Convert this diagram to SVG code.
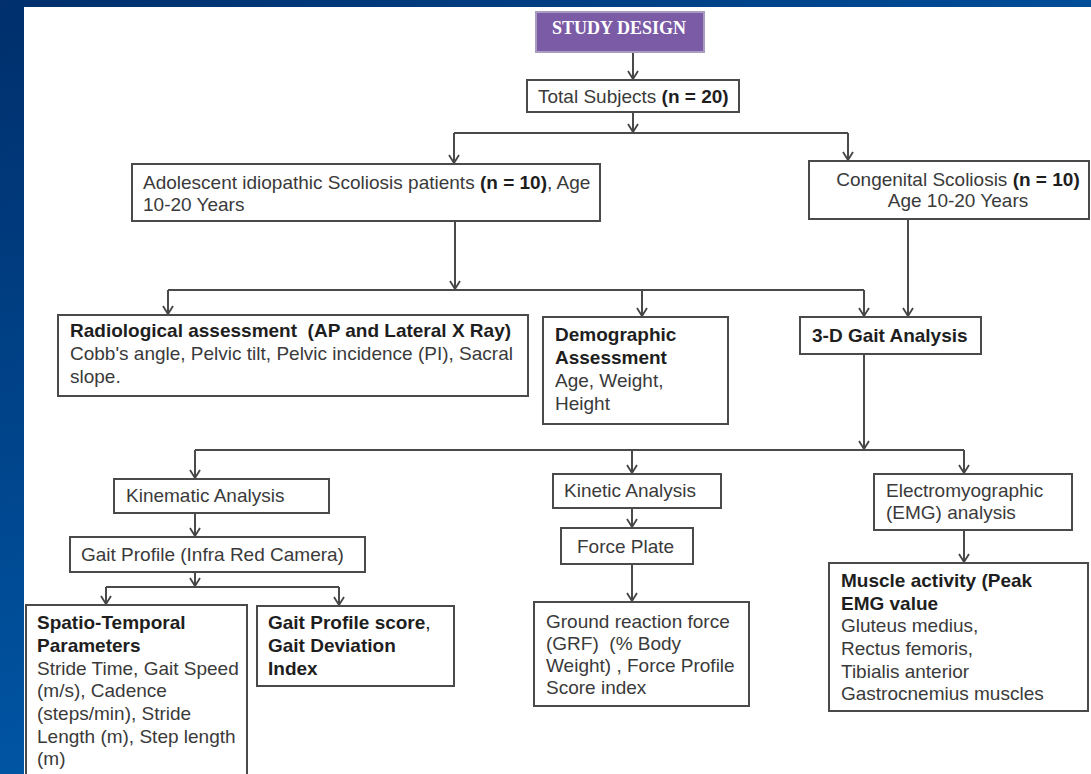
<svg xmlns="http://www.w3.org/2000/svg" width="1091" height="774" viewBox="0 0 1091 774">
<defs>
<linearGradient id="bg" x1="0" y1="0" x2="0.3" y2="1">
<stop offset="0" stop-color="#002f6c"/>
<stop offset="1" stop-color="#0058a8"/>
</linearGradient>
<linearGradient id="topbar" x1="0" y1="0" x2="1" y2="0">
<stop offset="0" stop-color="#002f6c"/>
<stop offset="1" stop-color="#004d98"/>
</linearGradient>
<marker id="arr" viewBox="0 0 12 10" refX="6" refY="9" markerWidth="12" markerHeight="10" markerUnits="userSpaceOnUse" orient="0">
<path d="M1,1 L6,9 L11,1" fill="none" stroke="#444" stroke-width="1.8"/>
</marker>
<style>
.box{fill:#fff;stroke:#4a4a4a;stroke-width:2}
.t{font-family:"Liberation Sans",Arial,sans-serif;font-size:19px;fill:#3a3a3a}
.b{font-weight:bold;fill:#1e1e1e}
.c{fill:none;stroke:#4a4a4a;stroke-width:2}
.a{fill:none;stroke:#4a4a4a;stroke-width:2;marker-end:url(#arr)}
</style>
</defs>
<rect x="0" y="0" width="1091" height="774" fill="url(#bg)"/>
<rect x="0" y="0" width="1091" height="7" fill="url(#topbar)"/>
<rect x="24" y="7" width="1067" height="767" fill="#fff"/>

<g id="connectors">
<path class="a" d="M633,53 V79"/>
<path class="a" d="M633,112 V132"/>
<path class="c" d="M454,133 H848"/>
<path class="a" d="M454,133 V163"/>
<path class="a" d="M848,133 V160"/>
<path class="a" d="M455,221 V289"/>
<path class="c" d="M168,290 H864"/>
<path class="a" d="M168,290 V314"/>
<path class="a" d="M642,290 V316"/>
<path class="a" d="M864,290 V316"/>
<path class="a" d="M908,219 V316"/>
<path class="a" d="M864,354 V449"/>
<path class="c" d="M195,450 H964"/>
<path class="a" d="M195,450 V478"/>
<path class="a" d="M632,450 V473"/>
<path class="a" d="M964,450 V473"/>
<path class="a" d="M195,513 V536"/>
<path class="a" d="M195,572 V586"/>
<path class="c" d="M106,587 H339"/>
<path class="a" d="M106,587 V604"/>
<path class="a" d="M339,587 V605"/>
<path class="a" d="M632,508 V527"/>
<path class="a" d="M632,564 V601"/>
<path class="a" d="M964,530 V562"/>
</g>

<g id="study-design">
<rect x="536" y="12" width="168" height="40" fill="#7b5ba6" stroke="#a89cc0" stroke-width="2"/>
<text x="619" y="34" text-anchor="middle" style="font-family:'Liberation Serif','Times New Roman',serif;font-size:18px;font-weight:bold;fill:#fff">STUDY DESIGN</text>
</g>

<g id="total-subjects">
<rect class="box" x="527" y="80" width="212" height="32"/>
<text class="t" x="538" y="103">Total Subjects <tspan class="b">(n = 20)</tspan></text>
</g>

<g id="adolescent">
<rect class="box" x="132" y="164" width="468" height="57"/>
<text class="t" x="143" y="189">Adolescent idiopathic Scoliosis patients <tspan class="b">(n = 10)</tspan>, Age</text>
<text class="t" x="143" y="211">10-20 Years</text>
</g>

<g id="congenital">
<rect class="box" x="809" y="161" width="280" height="58"/>
<text class="t" x="958" y="186" text-anchor="middle">Congenital Scoliosis <tspan class="b">(n = 10)</tspan></text>
<text class="t" x="958" y="207" text-anchor="middle">Age 10-20 Years</text>
</g>

<g id="radiological">
<rect class="box" x="58" y="315" width="470" height="81"/>
<text class="t b" x="70" y="337">Radiological assessment&#160; (AP and Lateral X Ray)</text>
<text class="t" x="70" y="360">Cobb's angle, Pelvic tilt, Pelvic incidence (PI), Sacral</text>
<text class="t" x="70" y="383">slope.</text>
</g>

<g id="demographic">
<rect class="box" x="543" y="317" width="185" height="107"/>
<text class="t b" x="555" y="341">Demographic</text>
<text class="t b" x="555" y="364">Assessment</text>
<text class="t" x="555" y="387">Age, Weight,</text>
<text class="t" x="555" y="410">Height</text>
</g>

<g id="gait-3d">
<rect class="box" x="800" y="317" width="181" height="37"/>
<text class="t b" x="812" y="342">3-D Gait Analysis</text>
</g>

<g id="kinematic">
<rect class="box" x="114" y="479" width="215" height="34"/>
<text class="t" x="126" y="502">Kinematic Analysis</text>
</g>

<g id="gait-profile">
<rect class="box" x="70" y="537" width="295" height="35"/>
<text class="t" x="81" y="561">Gait Profile (Infra Red Camera)</text>
</g>

<g id="spatio-temporal">
<rect class="box" x="26" y="605" width="221" height="175"/>
<text class="t b" x="37" y="629">Spatio-Temporal</text>
<text class="t b" x="37" y="652">Parameters</text>
<text class="t" x="37" y="675">Stride Time, Gait Speed</text>
<text class="t" x="37" y="697">(m/s), Cadence</text>
<text class="t" x="37" y="720">(steps/min), Stride</text>
<text class="t" x="37" y="743">Length (m), Step length</text>
<text class="t" x="37" y="765">(m)</text>
</g>

<g id="gait-profile-score">
<rect class="box" x="257" y="606" width="197" height="80"/>
<text class="t b" x="268" y="629">Gait Profile score<tspan style="font-weight:normal">,</tspan></text>
<text class="t b" x="268" y="652">Gait Deviation</text>
<text class="t b" x="268" y="675">Index</text>
</g>

<g id="kinetic">
<rect class="box" x="553" y="474" width="168" height="34"/>
<text class="t" x="564" y="497">Kinetic Analysis</text>
</g>

<g id="force-plate">
<rect class="box" x="561" y="528" width="132" height="36"/>
<text class="t" x="577" y="553">Force Plate</text>
</g>

<g id="grf">
<rect class="box" x="534" y="602" width="215" height="104"/>
<text class="t" x="546" y="628">Ground reaction force</text>
<text class="t" x="546" y="650">(GRF)&#160; (% Body</text>
<text class="t" x="546" y="672">Weight) , Force Profile</text>
<text class="t" x="546" y="694">Score index</text>
</g>

<g id="emg">
<rect class="box" x="874" y="474" width="198" height="56"/>
<text class="t" x="886" y="497">Electromyographic</text>
<text class="t" x="886" y="519">(EMG) analysis</text>
</g>

<g id="muscle">
<rect class="box" x="829" y="563" width="259" height="148"/>
<text class="t b" x="841" y="587">Muscle activity (Peak</text>
<text class="t b" x="841" y="610">EMG value</text>
<text class="t" x="841" y="632">Gluteus medius,</text>
<text class="t" x="841" y="655">Rectus femoris,</text>
<text class="t" x="841" y="678">Tibialis anterior</text>
<text class="t" x="841" y="700">Gastrocnemius muscles</text>
</g>
</svg>
